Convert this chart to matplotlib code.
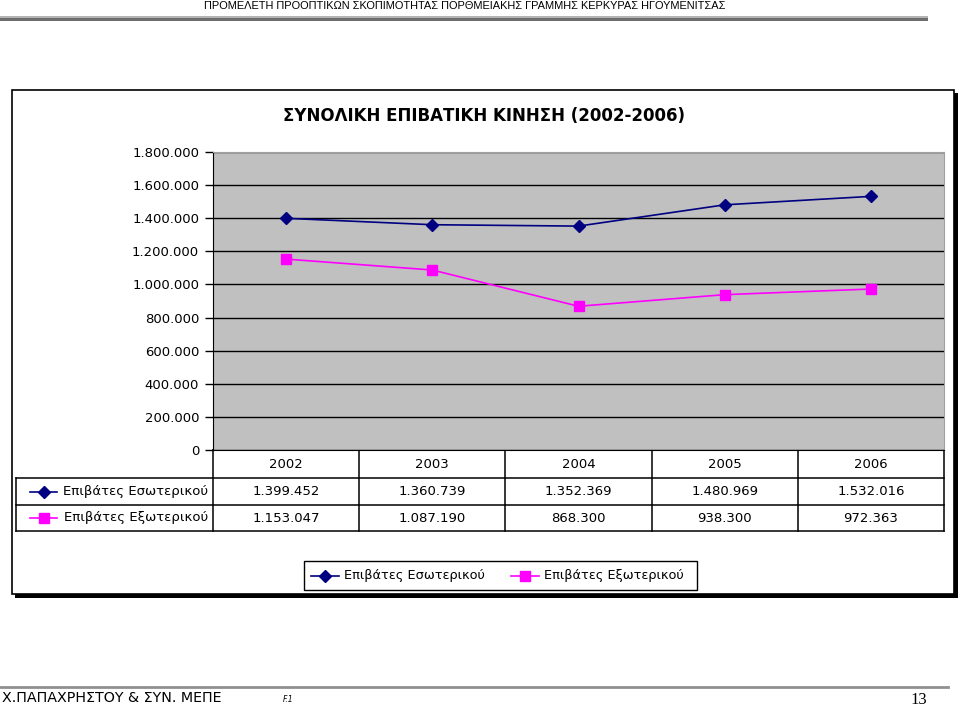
import matplotlib
matplotlib.use("Agg")
import matplotlib.pyplot as plt
from matplotlib.patches import Rectangle
from matplotlib.lines import Line2D

plt.rcParams['font.family'] = ['DejaVu Sans']

# data
years = ['2002', '2003', '2004', '2005', '2006']
domestic = [1399452, 1360739, 1352369, 1480969, 1532016]
foreign = [1153047, 1087190, 868300, 938300, 972363]
series_names = ['Επιβάτες Εσωτερικού', 'Επιβάτες Εξωτερικού']
yticks = list(range(0, 1800001, 200000))

title = 'ΣΥΝΟΛΙΚΗ ΕΠΙΒΑΤΙΚΗ ΚΙΝΗΣΗ (2002-2006)'
header = 'ΠΡΟΜΕΛΕΤΗ ΠΡΟΟΠΤΙΚΩΝ ΣΚΟΠΙΜΟΤΗΤΑΣ ΠΟΡΘΜΕΙΑΚΗΣ ΓΡΑΜΜΗΣ ΚΕΡΚΥΡΑΣ ΗΓΟΥΜΕΝΙΤΣΑΣ'
footer = 'Χ.ΠΑΠΑΧΡΗΣΤΟΥ & ΣΥΝ. ΜΕΠΕ'

navy = '#000080'
magenta = '#FF00FF'
fs = 9.5


def fmt(v):
    return f"{v:,}".replace(",", ".")


W, H = 960, 707
fig = plt.figure(figsize=(W / 100, H / 100), dpi=100)

# background layer in pixel coordinates
bg = fig.add_axes([0, 0, 1, 1])
bg.set_xlim(0, W)
bg.set_ylim(H, 0)
bg.axis('off')

# page header
bg.text(465, 6, header, ha='center', va='center', fontsize=7.9,
        family='Liberation Sans', stretch='condensed')
bg.add_patch(Rectangle((0, 16), 928, 5, color='#6e6e6e', lw=0))
bg.add_patch(Rectangle((0, 16), 928, 1.5, color='#b4b4b4', lw=0))

# chart frame with shadow
bg.add_patch(Rectangle((15, 93), 943, 505, color='black', lw=0))
bg.add_patch(Rectangle((12, 90), 942, 504, facecolor='white', edgecolor='black', lw=1.2))

bg.text(484, 116, title, ha='center', va='center', fontsize=12, fontweight='bold')

# plot area
L, R, T, B = 213, 944, 152, 450
ax = fig.add_axes([L / W, 1 - B / H, (R - L) / W, (B - T) / H])
ax.set_facecolor('#C0C0C0')
x = list(range(len(years)))
ax.plot(x, domestic, color=navy, lw=1.2, marker='D', ms=6.5, label=series_names[0], zorder=3)
ax.plot(x, foreign, color=magenta, lw=1.2, marker='s', ms=7, label=series_names[1], zorder=3)
ax.set_xlim(-0.5, len(years) - 0.5)
ax.set_ylim(0, 1800000)
ax.set_yticks(yticks)
ax.set_yticklabels([fmt(v) for v in yticks], fontsize=fs)
ax.set_xticks([])
ax.tick_params(axis='y', length=6, width=1, pad=4)
ax.grid(axis='y', color='black', lw=1)
ax.set_axisbelow(True)
ax.spines['left'].set_color('black')
ax.spines['bottom'].set_color('black')
ax.spines['top'].set_color('#a0a0a0')
ax.spines['right'].set_color('#a0a0a0')

# data table below the plot
col_w = (R - L) / len(years)
r0, r1, r2, r3 = 450, 478, 505, 531
tl = 16
lines = [
    ((L, R), (r0, r0)),
    ((tl, R), (r1, r1)),
    ((tl, R), (r2, r2)),
    ((tl, R), (r3, r3)),
    ((tl, tl), (r1, r3)),
]
for i in range(len(years) + 1):
    xc = L + i * col_w
    lines.append(((xc, xc), (r0, r3)))
for xs, ys in lines:
    bg.add_line(Line2D(xs, ys, color='black', lw=1.1))

for i, yr in enumerate(years):
    xc = L + (i + 0.5) * col_w
    bg.text(xc, (r0 + r1) / 2, yr, ha='center', va='center', fontsize=fs)
    bg.text(xc, (r1 + r2) / 2, fmt(domestic[i]), ha='center', va='center', fontsize=fs)
    bg.text(xc, (r2 + r3) / 2, fmt(foreign[i]), ha='center', va='center', fontsize=fs)

for ym, color, mk, ms, name in [((r1 + r2) / 2, navy, 'D', 6, series_names[0]),
                                ((r2 + r3) / 2, magenta, 's', 7, series_names[1])]:
    bg.plot([30, 57], [ym, ym], color=color, lw=1.2)
    bg.plot([43.5], [ym], color=color, marker=mk, ms=ms)
    bg.text(208, ym, name, ha='right', va='center', fontsize=fs)

# legend box
bg.add_patch(Rectangle((304, 561), 393, 29, facecolor='white', edgecolor='black', lw=1))
for x0, color, mk, ms, name in [(311, navy, 'D', 6, series_names[0]),
                                (511, magenta, 's', 7, series_names[1])]:
    bg.plot([x0, x0 + 28], [576, 576], color=color, lw=1.2)
    bg.plot([x0 + 14], [576], color=color, marker=mk, ms=ms)
    bg.text(x0 + 33, 576, name, ha='left', va='center', fontsize=9.3)

# page footer
bg.add_line(Line2D([0, 948], [687, 687], color='#909090', lw=2))
bg.text(2, 698, footer, ha='left', va='center', fontsize=10.3)
bg.text(283, 699, 'F.1', ha='left', va='center', fontsize=5.5, style='italic')
bg.text(927, 700, '13', ha='right', va='center', fontsize=12, family='Liberation Serif')

fig.savefig('out.png', dpi=100)
